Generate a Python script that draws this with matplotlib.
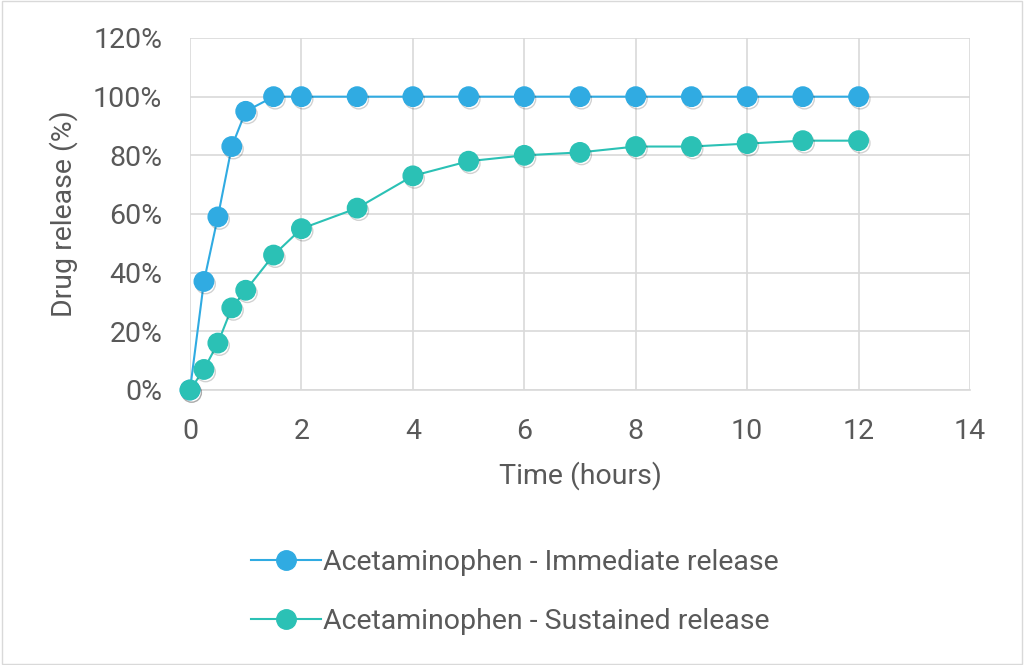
import matplotlib
matplotlib.use("Agg")
import matplotlib.pyplot as plt
import matplotlib.patheffects as pe
from matplotlib.ticker import FuncFormatter, MultipleLocator

plt.rcParams['font.family'] = ['Roboto', 'DejaVu Sans']

time_ir = [0, 0.25, 0.5, 0.75, 1, 1.5, 2, 3, 4, 5, 6, 7, 8, 9, 10, 11, 12]
release_ir = [0, 37, 59, 83, 95, 100, 100, 100, 100, 100, 100, 100, 100, 100, 100, 100, 100]
time_sr = [0, 0.25, 0.5, 0.75, 1, 1.5, 2, 3, 4, 5, 6, 7, 8, 9, 10, 11, 12]
release_sr = [0, 7, 16, 28, 34, 46, 55, 62, 73, 78, 80, 81, 83, 83, 84, 85, 85]
labels = ["Acetaminophen - Immediate release", "Acetaminophen - Sustained release"]
colors = ["#30ABE2", "#2BC1B5"]
txt = "#595959"
FS = 20.5

W, H = 1024, 665
fig = plt.figure(figsize=(W / 100, H / 100), dpi=100)
ax = fig.add_axes([190 / W, 1 - 390 / H, (970 - 190) / W, (390 - 38) / H])

for t, r, c, lab in [(time_ir, release_ir, colors[0], labels[0]), (time_sr, release_sr, colors[1], labels[1])]:
    ax.plot(t, r, color=c, lw=1.5, zorder=3, clip_on=False)
    ax.plot(t, r, ls='none', marker='o', ms=14, color=c, mec=c, zorder=4, clip_on=False,
            path_effects=[pe.SimpleLineShadow(offset=(1.2, -1.8), alpha=0.18, shadow_color='black'), pe.Normal()])
    ax.plot([], [], color=c, lw=1.5, marker='o', ms=14, label=lab)

ax.set_xlim(0, 14)
ax.set_ylim(0, 120)
ax.xaxis.set_major_locator(MultipleLocator(2))
ax.yaxis.set_major_locator(MultipleLocator(20))
ax.yaxis.set_major_formatter(FuncFormatter(lambda v, p: f"{v:.0f}%"))
ax.grid(True, color="#D9D9D9", lw=1.2)
ax.set_axisbelow(True)
for s in ['top', 'right', 'left']:
    ax.spines[s].set_visible(False)
ax.spines['bottom'].set_color("#D9D9D9")
ax.spines['bottom'].set_linewidth(1.2)
ax.tick_params(axis='y', length=0, labelsize=FS, colors=txt, pad=20)
ax.tick_params(axis='x', length=0, labelsize=FS, colors=txt, pad=20)
ax.set_xlabel("Time (hours)", fontsize=FS, color=txt, labelpad=12)
ax.set_ylabel("Drug release (%)", fontsize=FS, color=txt, labelpad=11)

leg = fig.legend(loc='center', bbox_to_anchor=(515 / W, 1 - 592 / H), ncol=1, frameon=False,
                 fontsize=FS, labelcolor=txt, handlelength=2.45, handletextpad=0.1,
                 labelspacing=1.1)

fig.patches.append(plt.Rectangle((0.002, 0.002), 0.996, 0.996, transform=fig.transFigure,
                                 fill=False, edgecolor="#D9D9D9", lw=1))
fig.savefig("out.png", dpi=100, facecolor='white')
